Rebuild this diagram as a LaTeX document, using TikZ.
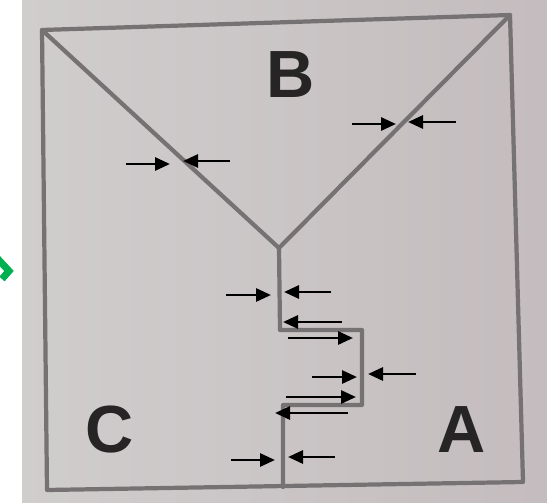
\documentclass[tikz,border=0pt]{standalone}
\usepackage{fontspec}
\setmainfont{Liberation Sans}
\usepackage{tikz}
\usetikzlibrary{arrows.meta}

\definecolor{paper}{RGB}{208,205,205}
\definecolor{paperpink}{RGB}{196,188,190}
\definecolor{pencil}{RGB}{118,113,114}
\definecolor{ink}{RGB}{38,36,36}
\definecolor{greentick}{RGB}{0,176,80}

\tikzset{
    wall/.style={pencil, line width=2.4pt, line join=round, line cap=round},
    pointer/.style={-{Triangle[length=0.3cm, width=0.26cm]}, line width=1.6pt, black},
    region/.style={ink, font=\fontsize{38}{38}\selectfont\bfseries}
}

\begin{document}
\begin{tikzpicture}[x=0.02cm, y=-0.02cm]
    % photo background
    \useasboundingbox (0,0) rectangle (547,503);
    \fill[white] (0,0) rectangle (547,503);
    \shade[left color=paper, right color=paperpink] (22,0) rectangle (547,503);

    % green mark cut at the left border
    \begin{scope}
        \clip (0,0) rectangle (22,503);
        \draw[greentick, line width=4pt] (-4,257) -- (9,271) -- (2,279);
    \end{scope}

    % outer square
    \coordinate (tl) at (42,30);
    \coordinate (tr) at (510,15);
    \coordinate (br) at (523,482);
    \coordinate (bl) at (47,490);
    \draw[wall] (tl) -- (tr) -- (br) -- (bl) -- cycle;

    % boundaries between the regions
    \coordinate (fork) at (279,248);
    \coordinate (s1) at (280,330);
    \coordinate (s2) at (362,330);
    \coordinate (s3) at (362,405);
    \coordinate (s4) at (283,405);
    \coordinate (foot) at (283,487);
    \draw[wall] (tl) -- (fork) -- (tr);
    \draw[wall] (fork) -- (s1) -- (s2) -- (s3) -- (s4) -- (foot);

    % region labels
    \node[region] (lblB) at (291,75) {B};
    \node[region] (lblC) at (110,430) {C};
    \node[region] (lblA) at (462,430) {A};

    % arrows on the left diagonal
    \draw[pointer] (126,164) -- (170,164);
    \draw[pointer] (230,161) -- (183,161);

    % arrows on the right diagonal
    \draw[pointer] (352,124) -- (396,124);
    \draw[pointer] (456,122) -- (408,122);

    % arrows along the step
    \draw[pointer] (226,295) -- (271,295);
    \draw[pointer] (331,292) -- (284,292);
    \draw[pointer] (342,322) -- (283,322);
    \draw[pointer] (288,338) -- (353,338);
    \draw[pointer] (312,377) -- (357,377);
    \draw[pointer] (416,374) -- (368,374);
    \draw[pointer] (286,397) -- (356,397);
    \draw[pointer] (348,413) -- (275,413);
    \draw[pointer] (231,460) -- (275,460);
    \draw[pointer] (335,457) -- (288,457);
\end{tikzpicture}
\end{document}
